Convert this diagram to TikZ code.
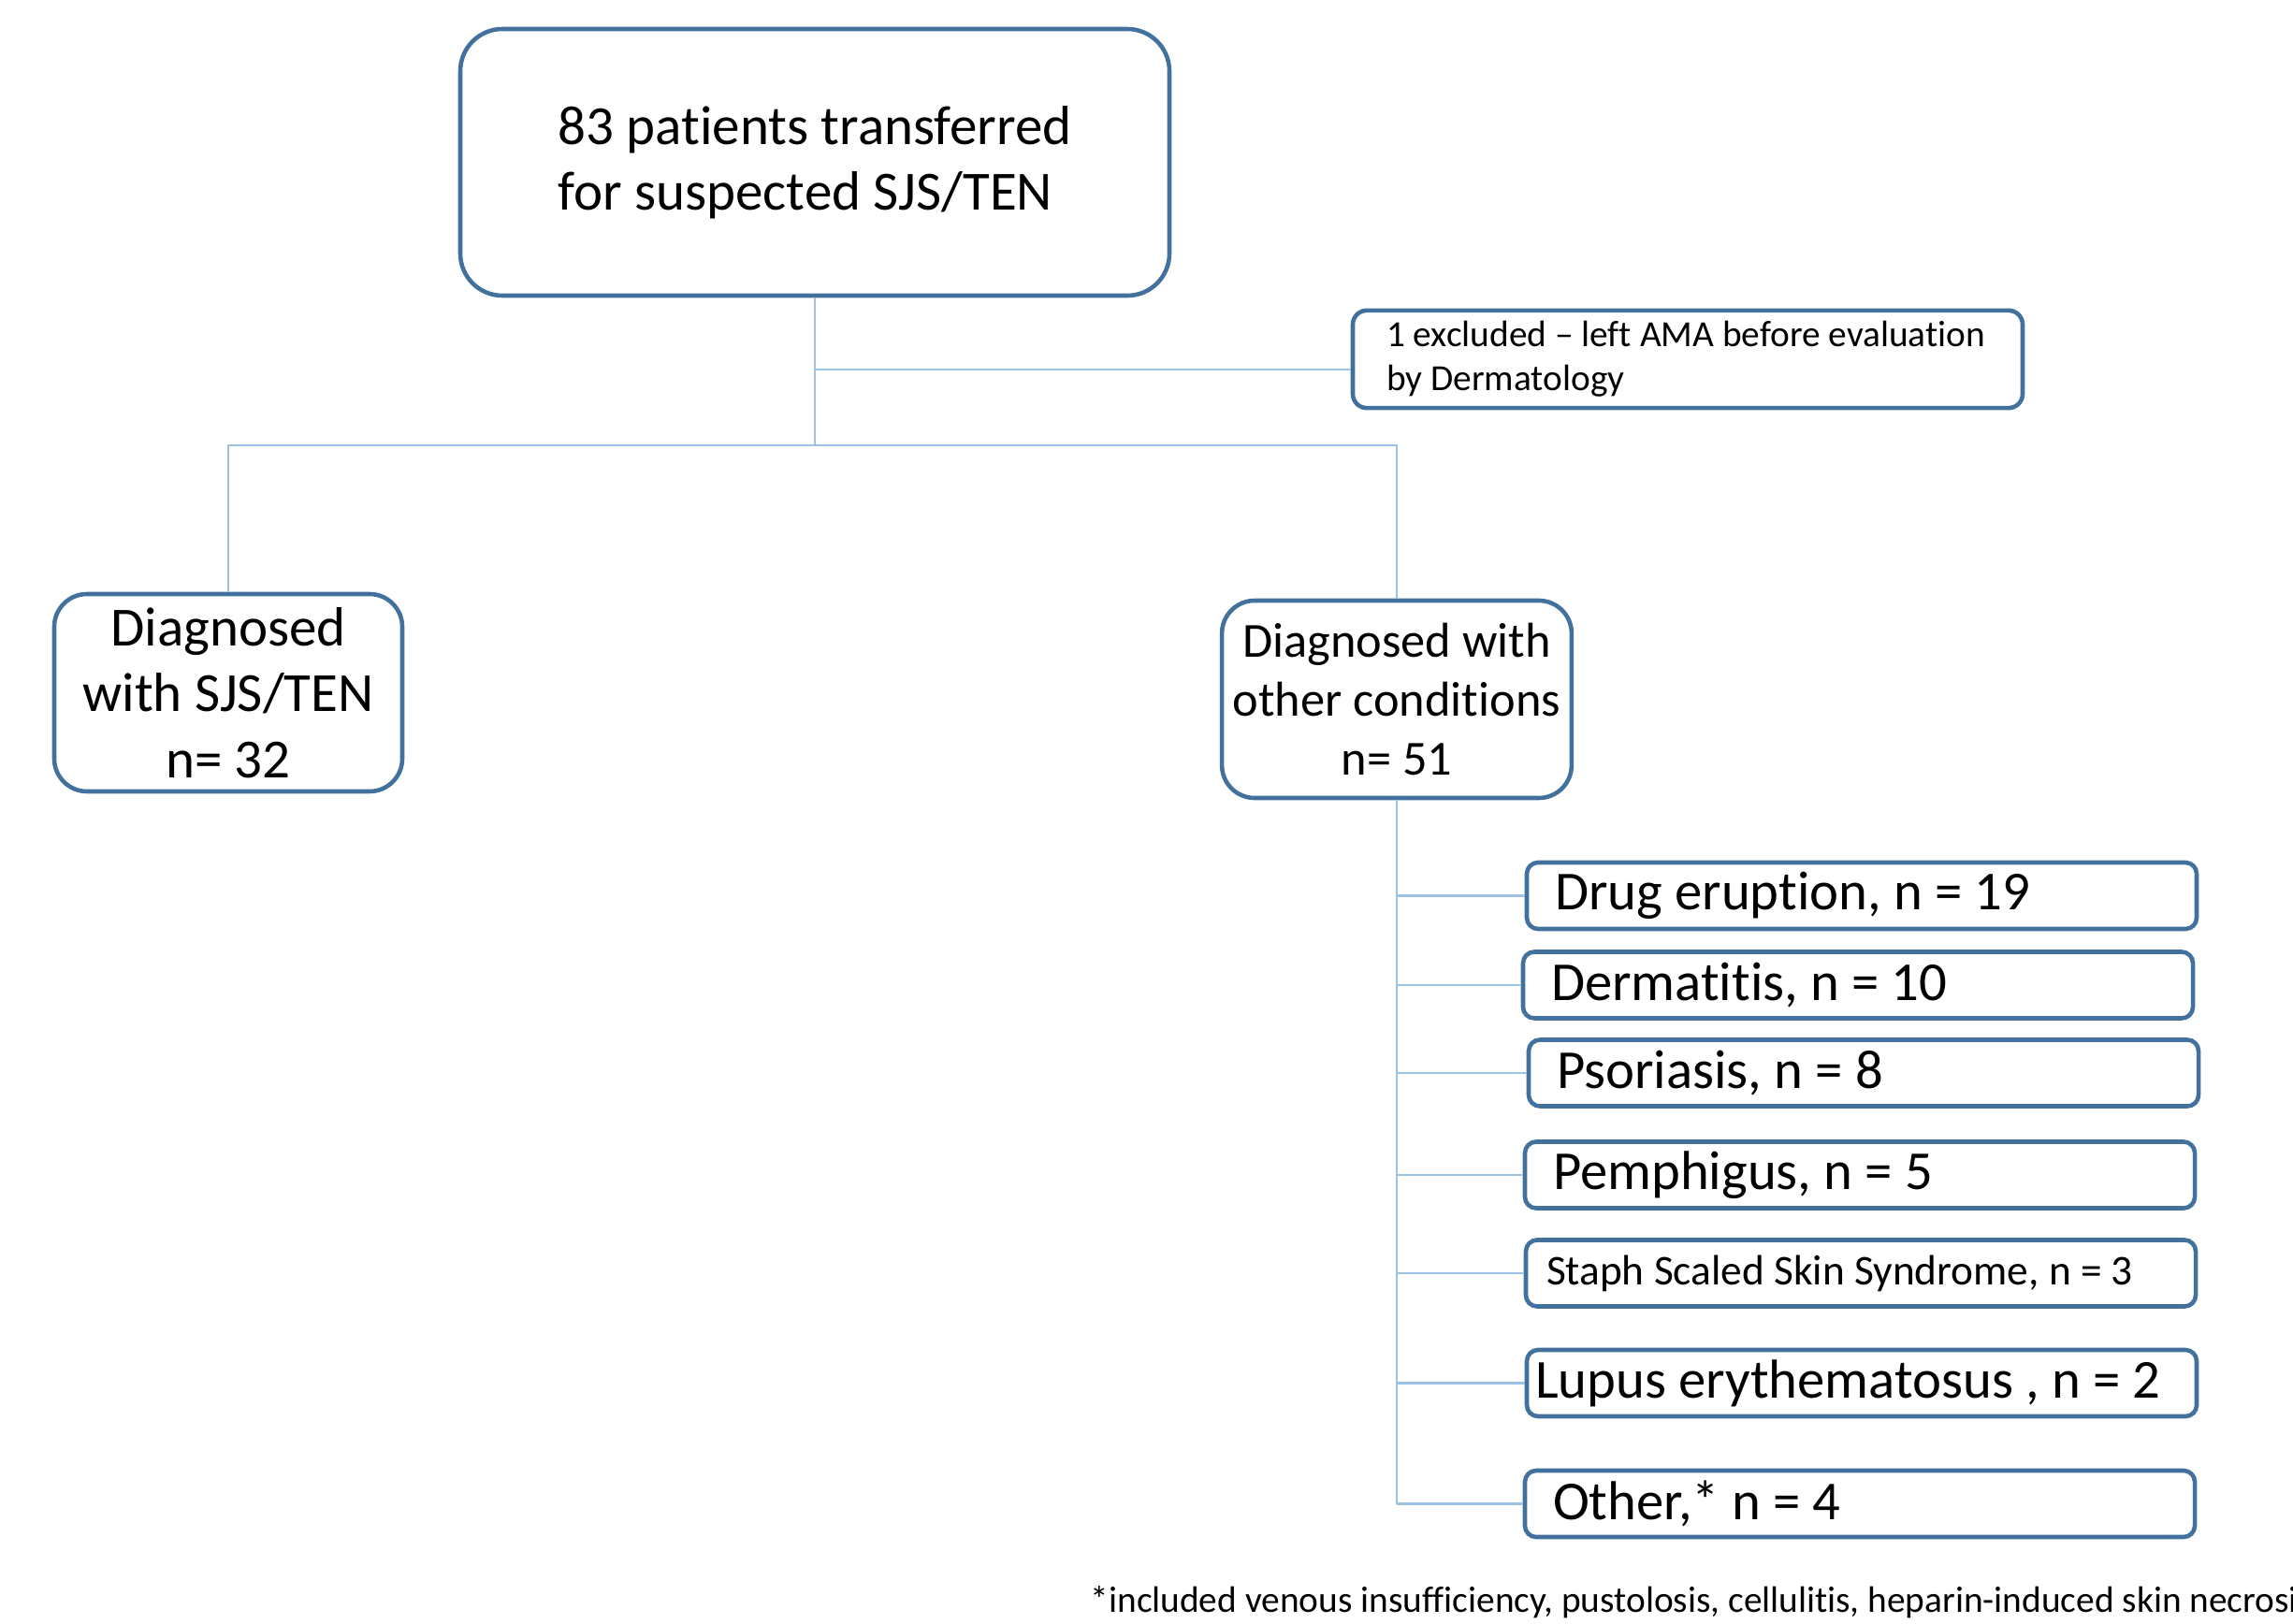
\documentclass[tikz,border=0pt]{standalone}
\usepackage{fontspec}
\setmainfont{Carlito}[Ligatures=NoCommon]
\usetikzlibrary{positioning}
\definecolor{boxline}{HTML}{41719C}
\definecolor{linkline}{HTML}{9CC2E5}

\tikzset{
  box/.style={draw=boxline,line width=1.3pt,rounded corners=0.45cm,align=center},
  cond/.style={draw=boxline,line width=1.3pt,rounded corners=0.12cm,minimum height=0.71cm,
    inner xsep=0.3cm,inner ysep=0pt,text width=6.56cm,align=flush left,font=\fontsize{16.7}{19}\selectfont},
  link/.style={draw=linkline,line width=0.8pt}
}

\begin{document}
\begin{tikzpicture}
  \useasboundingbox (0,0) rectangle (24.51,-17.35);
  \clip (0,0) rectangle (24.51,-17.35);

  % Top: all transfers
  \node[box,minimum width=7.58cm,minimum height=2.85cm,align=left,
    font=\fontsize{16.8}{20}\selectfont] (top) at (8.71,-1.735)
    {83 patients transferred\\for suspected SJS/TEN};

  % Exclusion
  \node[box,rounded corners=0.15cm,minimum width=7.16cm,minimum height=1.02cm,inner xsep=0.36cm,
    text width=6.44cm,align=flush left,font=\fontsize{11.2}{13.3}\selectfont] (excl) at (18.04,-3.84)
    {1 excluded -- left AMA before evaluation\\by Dermatology};

  % Two diagnosis groups
  \node[box,rounded corners=0.35cm,minimum width=3.72cm,minimum height=2.11cm,
    font=\fontsize{16.8}{20}\selectfont] (sjs) at (2.44,-7.405)
    {Diagnosed\\with SJS/TEN\\n= 32};
  \node[box,rounded corners=0.35cm,minimum width=3.72cm,minimum height=2.11cm,
    font=\fontsize{14.9}{17.8}\selectfont] (other) at (14.93,-7.475)
    {Diagnosed with\\other conditions\\n= 51};

  % Other conditions
  \node[cond] (drug) at (19.90,-9.575) {Drug eruption, n = 19};
  \node[cond] (derm) at (19.86,-10.53) {Dermatitis, n = 10};
  \node[cond] (psor) at (19.92,-11.47) {Psoriasis, n = 8};
  \node[cond] (pemph) at (19.88,-12.56) {Pemphigus, n = 5};
  \node[cond,inner xsep=0.22cm,text width=6.72cm,font=\fontsize{12.9}{15}\selectfont] (staph) at (19.89,-13.61)
    {Staph Scaled Skin Syndrome, n = 3};
  \node[cond,inner xsep=0.09cm,text width=6.98cm] (lupus) at (19.90,-14.785) {Lupus erythematosus , n = 2};
  \node[cond] (misc) at (19.88,-16.075) {Other,* n = 4};

  % Footnote (runs off the right edge, as in the original)
  \node[anchor=west,inner sep=0pt,font=\fontsize{11.2}{13}\selectfont] (note) at (11.65,-17.13)
    {*included venous insufficiency, pustolosis, cellulitis, heparin-induced skin necrosis};

  % Connectors
  \coordinate (split) at (top.south |- 0,-4.76);
  \coordinate (exclin) at ([yshift=-0.11cm]excl.west);
  \draw[link] (top.south) -- (split);
  \draw[link] (exclin) -- (exclin -| top.south);
  \draw[link] (sjs.north) |- (split) -| (other.north);
  \coordinate (trunk) at (other.south |- misc.west);
  \draw[link] (other.south) -- (trunk);
  \foreach \n in {drug,derm,psor,pemph,staph,lupus,misc}
    \draw[link] (\n.west -| trunk) -- (\n.west);
\end{tikzpicture}
\end{document}
